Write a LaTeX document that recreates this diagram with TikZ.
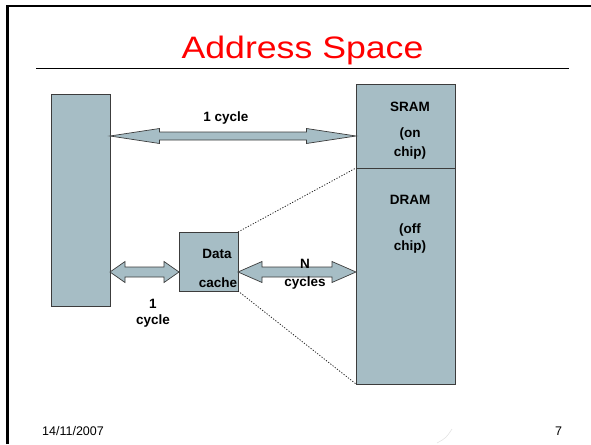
\documentclass[tikz,border=0pt]{standalone}
\usepackage{fontspec}
\setmainfont{Liberation Sans}
\usetikzlibrary{calc}

\definecolor{boxfill}{RGB}{166,189,197}
\definecolor{boxline}{RGB}{60,60,60}

\tikzset{
  membox/.style={draw=boxline, fill=boxfill, line width=0.9pt, inner sep=0pt, outer sep=0pt},
  arrowbody/.style={draw=boxline, fill=boxfill, line width=0.7pt, line join=miter},
  lbl/.style={font=\bfseries\fontsize{13.5}{16}\selectfont, inner sep=0pt, anchor=base},
  zoomline/.style={black!85, dash pattern=on 1.2pt off 1.6pt, line width=0.8pt},
  footer/.style={inner sep=0pt, font=\fontsize{12.5}{15}\selectfont},
}

% Horizontal double-headed block arrow between two points on the same row:
% #1 start, #2 end, #3 head length, #4 head half-height, #5 shaft half-height
\newcommand\dblblock[5]{%
  \draw[arrowbody] let \p1=(#1), \p2=(#2) in
    (\x1,\y1) -- ({\x1+#3pt},{\y1+#4pt}) -- ({\x1+#3pt},{\y1+#5pt})
    -- ({\x2-#3pt},{\y1+#5pt}) -- ({\x2-#3pt},{\y1+#4pt}) -- (\x2,\y1)
    -- ({\x2-#3pt},{\y1-#4pt}) -- ({\x2-#3pt},{\y1-#5pt})
    -- ({\x1+#3pt},{\y1-#5pt}) -- ({\x1+#3pt},{\y1-#4pt}) -- cycle;}

\begin{document}
\begin{tikzpicture}[x=1pt, y=-1pt]
  \useasboundingbox (0,0) rectangle (591,444);

  % slide frame (left and top edges)
  \draw[line width=2.6pt] (7.5,444) -- (7.5,6) -- (591,6);

  % title and rule
  \node[anchor=base, text=red, inner sep=0pt, font=\fontsize{31}{36}\selectfont]
    (title) at (302.5,59) {\scalebox{1.15}[1]{Address Space}};
  \coordinate (ruleL) at (36,68);
  \coordinate (ruleR) at (569,68);
  \draw[line width=0.8pt] (ruleL) -- (ruleR);

  % processor, cache and memory blocks
  \node[membox, minimum width=59pt, minimum height=212pt] (cpu) at (80.5,200) {};
  \node[membox, minimum width=99pt, minimum height=84pt] (sram) at (405.5,126) {};
  \node[membox, minimum width=99pt, minimum height=216pt] (dram) at (405.5,276) {};
  \node[membox, minimum width=59pt, minimum height=59pt] (cache) at (208.5,261.5) {};

  % cache maps onto the DRAM region
  \draw[zoomline] (cache.north east) -- (dram.north west);
  \draw[zoomline] (cache.south east) -- (dram.south west);

  % access paths
  \coordinate (toprow) at (0,136);
  \coordinate (lowrow) at (0,272);
  \dblblock{cpu.east |- toprow}{sram.west |- toprow}{49.5}{7.5}{4}
  \dblblock{cpu.east |- lowrow}{cache.west |- lowrow}{15}{10.5}{5}
  \dblblock{cache.east |- lowrow}{dram.west |- lowrow}{24}{10.5}{5}

  % labels
  \node[lbl] (topcyc) at (226,121) {1 cycle};
  \node[lbl] (sramname) at (410,111) {SRAM};
  \node[lbl] (sramon) at (410,137) {(on};
  \node[lbl] (sramchip) at (410,156) {chip)};
  \node[lbl] (dramname) at (410,204) {DRAM};
  \node[lbl] (dramoff) at (410,233) {(off};
  \node[lbl] (dramchip) at (410,250) {chip)};
  \node[lbl] (cdata) at (217,258) {Data};
  \node[lbl] (ccache) at (218,287) {cache};
  \node[lbl] (nN) at (305,268) {N};
  \node[lbl] (ncyc) at (305,286) {cycles};
  \node[lbl] (one) at (153,308) {1};
  \node[lbl] (onecyc) at (153,324) {cycle};

  % footer
  \node[footer, anchor=base west] (date) at (42,435) {14/11/2007};
  \node[footer, anchor=base] (pageno) at (558.5,435) {7};
  \draw[gray!22, line width=0.6pt] (437,443) .. controls (446,438) .. (452,429);
\end{tikzpicture}
\end{document}
